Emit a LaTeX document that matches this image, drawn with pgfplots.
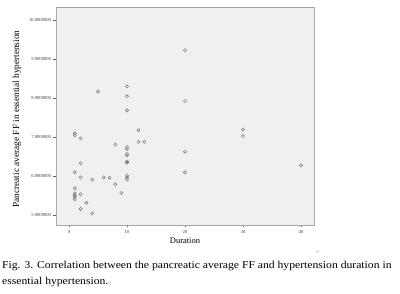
\documentclass[border=0pt]{standalone}
\usepackage{fontspec}
\setmainfont{Liberation Serif}
\newfontfamily\dejavu{DejaVu Sans}
\newfontfamily\capfont[FakeStretch=1.11]{Liberation Serif}
\usepackage{pgfplots}
\pgfplotsset{compat=1.18}
\definecolor{plotbg}{HTML}{F0F0F0}
\definecolor{mk}{HTML}{707070}
\begin{document}
\begin{tikzpicture}[x=1pt,y=1pt]
\useasboundingbox (0,0) rectangle (400,294);
\begin{axis}[
  at={(56pt,69pt)}, anchor=south west,
  scale only axis, width=258pt, height=218pt,
  xmin=-2.24, xmax=42.24, ymin=4.74, ymax=10.33,
  axis background/.style={fill=plotbg},
  axis line style={draw=gray!70, line width=0.6pt},
  tick style={draw=gray!80!black, line width=0.4pt},
  tick align=outside, major tick length=2.5pt,
  xtick={0,10,20,30,40},
  ytick={5,6,7,8,9,10},
  yticklabels={5.0000000,6.0000000,7.0000000,8.0000000,9.0000000,10.0000000},
  xticklabels={0,10,20,30,40},
  ticklabel style={font=\fontsize{4.6}{5}\selectfont, text=black!75},
  xtick pos=bottom, ytick pos=left,
  yticklabel style={xshift=1pt},
  xticklabel style={yshift=1pt},
]
\addplot[only marks, mark=o, mark size=1.6pt, mark options={draw=mk, line width=0.45pt}] coordinates {
(20,9.22) (5,8.16) (10,8.29) (10,8.04) (10,7.68) (20,7.92) (12,7.17)
(30,7.19) (30,7.02) (20,6.62) (20,6.09) (40,6.27)
(1,7.09) (1,7.04) (2,6.96) (8,6.80) (12,6.87) (13,6.87)
(10,6.74) (10,6.69) (10,6.56) (10,6.53) (10,6.37) (10,6.34)
(2,6.32) (1,6.09) (2,5.96) (4,5.90) (6,5.96) (7,5.95)
(10,6.00) (10,5.95) (10,5.90) (8,5.78) (9,5.56)
(1,5.68) (1,5.55) (1,5.50) (1,5.46) (1,5.40) (2,5.53)
(3,5.31) (2,5.15) (4,5.04)
};
\end{axis}
\node[rotate=90, font=\fontsize{9.3}{10}\selectfont] at (17,175) {Pancreatic average FF in essential hypertension};
\node[font=\fontsize{8.5}{9}\selectfont] at (185,53) {Duration};
\node[font=\dejavu\fontsize{4.5}{5}\selectfont, text=gray!70] at (318,42) {↵};
\node[anchor=base west, font=\capfont\fontsize{10.5}{12}\selectfont, inner sep=0pt] at (2,25) {Fig. 3. Correlation between the pancreatic average FF and hypertension duration in};
\node[anchor=base west, font=\capfont\fontsize{10.5}{12}\selectfont, inner sep=0pt] at (2,9) {essential hypertension.{\dejavu\fontsize{4.5}{5}\selectfont\textcolor{gray!70}{↵}}};
\end{tikzpicture}
\end{document}
